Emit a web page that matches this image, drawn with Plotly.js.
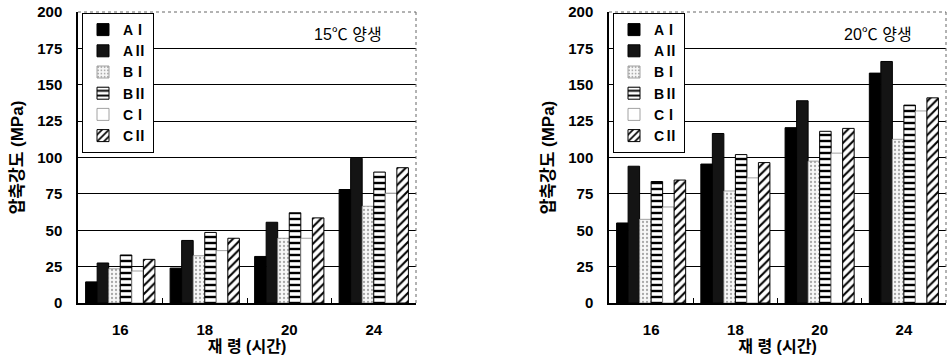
<!DOCTYPE html>
<html>
<head>
<meta charset="utf-8">
<script src="https://cdn.plot.ly/plotly-3.0.1.min.js"></script>
<style>html,body{margin:0;padding:0;background:#fff;}#chart{width:947px;height:360px;}</style>
</head>
<body>
<div id="chart"></div>
<script>
// ---- data ----
const categories = ['16', '18', '20', '24'];
const seriesNames = ['A\u2160', 'A\u2161', 'B\u2160', 'B\u2161', 'C\u2160', 'C\u2161'];
const yTicks = [0, 25, 50, 75, 100, 125, 150, 175, 200];

// 15℃ curing (MPa)
const c15_A1 = [14.5, 24, 32, 78];
const c15_A2 = [27.5, 43, 55.5, 99.5];
const c15_B1 = [23.5, 32.5, 44.5, 66.5];
const c15_B2 = [33, 48.5, 62, 90];
const c15_C1 = [22, 36, 44.5, 75.5];
const c15_C2 = [30, 44.5, 58.5, 93];

// 20℃ curing (MPa)
const c20_A1 = [55, 95.5, 120.5, 158];
const c20_A2 = [94, 116.5, 139, 166];
const c20_B1 = [57.5, 77, 97.5, 112.5];
const c20_B2 = [83.5, 102, 118, 136];
const c20_C1 = [66, 86, 103, 132];
const c20_C2 = [84.5, 96.5, 120, 141];

const panelTitles = ['15\u2103 \uC591\uC0DD', '20\u2103 \uC591\uC0DD'];
const yTitle = '\uC555\uCD95\uAC15\uB3C4 (MPa)';
const xTitle = '\uC7AC \uB839 (\uC2DC\uAC04)';

// ---- styles ----
const FONT = 'Liberation Sans, Arial, Noto Sans CJK KR, sans-serif';
const styles = [
  {color: '#000', line: {color: '#000', width: 1}},
  {color: '#141414', line: {color: '#000', width: 1}},
  {color: '#f4f4f4', line: {color: '#8a8a8a', width: 0.8},
   pattern: {shape: '.', fgcolor: '#a8a8a8', bgcolor: '#f8f8f8', size: 4, solidity: 0.25}},
  {color: '#fff', line: {color: '#000', width: 1},
   pattern: {shape: '-', fgcolor: '#000', bgcolor: '#fff', size: 6, solidity: 0.4}},
  {color: '#fff', line: {color: '#8a8a8a', width: 0.8}},
  {color: '#fff', line: {color: '#000', width: 1},
   pattern: {shape: '/', fgcolor: '#000', bgcolor: '#fff', size: 6, solidity: 0.35}}
];

const panels = [
  {vals: [c15_A1, c15_A2, c15_B1, c15_B2, c15_C1, c15_C2], xa: 'x', ya: 'y', lg: 'legend'},
  {vals: [c20_A1, c20_A2, c20_B1, c20_B2, c20_C1, c20_C2], xa: 'x2', ya: 'y2', lg: 'legend2'}
];

const traces = [];
panels.forEach(p => {
  p.vals.forEach((v, i) => {
    const s = styles[i];
    const marker = {color: s.color, line: s.line};
    if (s.pattern) marker.pattern = s.pattern;
    traces.push({
      type: 'bar', x: categories, y: v, name: seriesNames[i],
      xaxis: p.xa, yaxis: p.ya, legend: p.lg, marker: marker,
      hoverinfo: 'x+y+name'
    });
  });
});

const H = 360, W = 947;
const yDom = [1 - 303 / H, 1 - 12 / H];
const xDom1 = [78 / W, 416 / W];
const xDom2 = [609 / W, 946 / W];

function xAxis(dom, anchor) {
  return {
    domain: dom, anchor: anchor, type: 'category',
    showline: true, linecolor: '#000', linewidth: 2,
    ticks: 'inside', tickson: 'boundaries', ticklen: 5, tickcolor: '#000', tickwidth: 1,
    ticklabelstandoff: 12,
    tickfont: {family: FONT, size: 15, color: '#000', weight: 'bold'},
    showgrid: false, zeroline: false, fixedrange: true,
    title: {text: xTitle, standoff: 1, font: {family: FONT, size: 16, color: '#000', weight: 'bold'}}
  };
}
function yAxis(dom, anchor) {
  return {
    domain: dom, anchor: anchor, range: [0, 200], tickvals: yTicks,
    showline: true, linecolor: '#000', linewidth: 1.5,
    showgrid: true, gridcolor: '#000', gridwidth: 1, zeroline: false,
    ticks: '', ticklabelstandoff: 11,
    tickfont: {family: FONT, size: 15, color: '#000', weight: 'bold'},
    fixedrange: true,
    title: {text: yTitle, standoff: 9, font: {family: FONT, size: 17, color: '#000', weight: 'bold'}}
  };
}

function legendCfg(x) {
  return {
    x: x, y: 1 - 13 / H, xanchor: 'left', yanchor: 'top',
    bgcolor: '#fff', bordercolor: '#000', borderwidth: 1,
    font: {family: FONT, size: 14, color: '#000', weight: 'bold'},
    itemwidth: 30, tracegroupgap: 0, traceorder: 'normal'
  };
}

const layout = {
  width: W, height: H,
  margin: {l: 0, r: 0, t: 0, b: 0, autoexpand: false},
  paper_bgcolor: '#fff', plot_bgcolor: '#fff',
  barmode: 'group', bargap: 0.18, bargroupgap: 0,
  showlegend: true,
  xaxis: xAxis(xDom1, 'y'), yaxis: yAxis(yDom, 'x'),
  xaxis2: xAxis(xDom2, 'y2'), yaxis2: yAxis(yDom, 'x2'),
  legend: legendCfg(82 / W),
  legend2: legendCfg(613 / W),
  annotations: [
    {xref: 'paper', yref: 'paper', x: 348 / W, y: 1 - 34 / H, text: panelTitles[0], showarrow: false,
     xanchor: 'center', yanchor: 'middle', font: {family: FONT, size: 16, color: '#000'}},
    {xref: 'paper', yref: 'paper', x: 878 / W, y: 1 - 35 / H, text: panelTitles[1], showarrow: false,
     xanchor: 'center', yanchor: 'middle', font: {family: FONT, size: 16, color: '#000'}}
  ],
  shapes: [
    {type: 'line', xref: 'paper', yref: 'paper', x0: xDom1[0], x1: xDom1[1], y0: yDom[1], y1: yDom[1],
     line: {color: '#666', width: 1, dash: 'dot'}},
    {type: 'line', xref: 'paper', yref: 'paper', x0: xDom1[1], x1: xDom1[1], y0: yDom[0], y1: yDom[1],
     line: {color: '#666', width: 1, dash: 'dot'}},
    {type: 'line', xref: 'paper', yref: 'paper', x0: xDom2[0], x1: xDom2[1], y0: yDom[1], y1: yDom[1],
     line: {color: '#666', width: 1, dash: 'dot'}},
    {type: 'line', xref: 'paper', yref: 'paper', x0: xDom2[1], x1: xDom2[1], y0: yDom[0], y1: yDom[1],
     line: {color: '#666', width: 1, dash: 'dot'}}
  ]
};

Plotly.newPlot('chart', traces, layout, {displayModeBar: false});
</script>
</body>
</html>
